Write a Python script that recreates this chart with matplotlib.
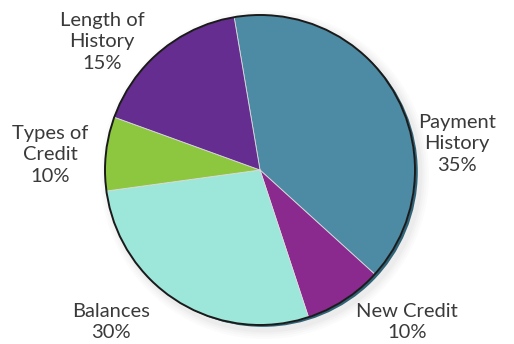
import matplotlib.pyplot as plt
from matplotlib.patches import Circle

# slice shares as drawn (degrees), labels as printed
names = ['Payment\nHistory', 'New Credit', 'Balances', 'Types of\nCredit', 'Length of\nHistory']
shares = [39.4, 8.2, 27.9, 7.7, 16.8]
printed = ['35%', '10%', '30%', '10%', '15%']
colors = ['#4d8ba5', '#8b2a8e', '#9de6da', '#8dc63f', '#652d8f']

# label centres in pixels (x, y from top)
label_px = [(457, 144), (407, 322), (111, 322), (50, 155), (102, 42)]

W, H = 514, 344
cx, cy, R = 260, 170, 155

fig = plt.figure(figsize=(W / 100, H / 100), dpi=100)
ax = fig.add_axes([0, 0, 1, 1])

# soft shadow + 3d rim
for i, a in enumerate([0.03, 0.03, 0.04, 0.05]):
    ax.add_patch(Circle((0.03, -0.03), 1.0 + 0.06 - i * 0.014, color='#888888', alpha=a, lw=0, zorder=0))
ax.add_patch(Circle((0.018, -0.012), 1.0, color='#2f6478', lw=0, zorder=1))

wedges, _ = ax.pie(shares, colors=colors, startangle=99.6, counterclock=False,
                   radius=1.0, wedgeprops=dict(edgecolor='#dddddd', linewidth=0.6))
for w in wedges:
    w.set_zorder(2)
ax.add_patch(Circle((0, 0), 1.0, fill=False, edgecolor='#1a1a1a', lw=1.4, zorder=3))

for name, pct, (px, py) in zip(names, printed, label_px):
    ax.text((px - cx) / R, (cy - py) / R, name + '\n' + pct, ha='center', va='center',
            fontsize=14.5, color='#3a3a3a', family='Lato', linespacing=1.3, zorder=4)

ax.set_xlim(-cx / R, (W - cx) / R)
ax.set_ylim(-(H - cy) / R, cy / R)
ax.set_aspect('auto')
ax.axis('off')

fig.savefig('out.png', dpi=100)
